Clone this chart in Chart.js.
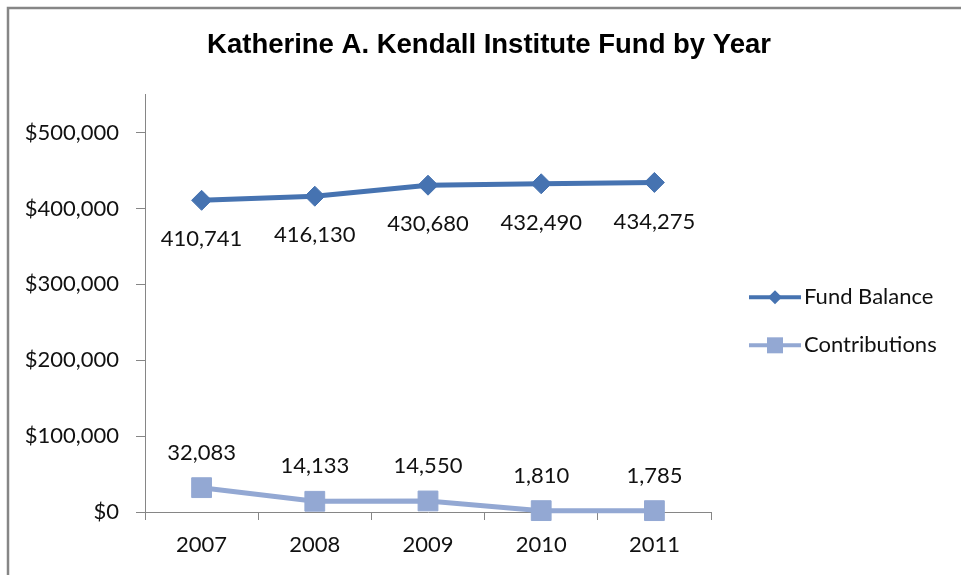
<!DOCTYPE html>
<html>
<head>
<meta charset="utf-8">
<title>Katherine A. Kendall Institute Fund by Year</title>
<script src="https://cdn.jsdelivr.net/npm/chart.js@4.4.0/dist/chart.umd.min.js"></script>
<style>
    html, body { margin: 0; padding: 0; background: #fff; }
    canvas { display: block; }
</style>
</head>
<body>
<canvas id="fundChart" width="961" height="575"></canvas>
<script>
// --- values
var years = ['2007', '2008', '2009', '2010', '2011'];
var fundBalance = [410741, 416130, 430680, 432490, 434275];
var contributions = [32083, 14133, 14550, 1810, 1785];
var yTicks = [0, 100000, 200000, 300000, 400000, 500000];
var yMax = 550000;

var fundColor = '#4673B1';
var contribColor = '#93A8D3';
var axisColor = '#868686';
var textColor = '#111';
var labelFont = { family: 'Lato', size: 22 };

function money(v) {
    return '$' + v.toLocaleString('en-US');
}

// grey frame round the whole chart (left and top edges only show)
var framePlugin = {
    id: 'frame',
    beforeDraw: function (chart) {
        var ctx = chart.ctx;
        ctx.save();
        ctx.fillStyle = '#fff';
        ctx.fillRect(0, 0, chart.width, chart.height);
        ctx.strokeStyle = axisColor;
        ctx.lineWidth = 2.5;
        ctx.beginPath();
        ctx.moveTo(8, chart.height);
        ctx.lineTo(8, 8);
        ctx.lineTo(chart.width, 8);
        ctx.stroke();
        ctx.restore();
    }
};

// value labels: below the fund points, above the contribution points
var valueLabels = {
    id: 'valueLabels',
    afterDatasetsDraw: function (chart) {
        var ctx = chart.ctx;
        ctx.save();
        ctx.font = labelFont.size + 'px ' + labelFont.family;
        ctx.fillStyle = textColor;
        ctx.textAlign = 'center';
        ctx.textBaseline = 'middle';
        chart.data.datasets.forEach(function (ds, i) {
            var meta = chart.getDatasetMeta(i);
            meta.data.forEach(function (pt, j) {
                ctx.fillText(ds.data[j].toLocaleString('en-US'), pt.x, pt.y + ds.labelOffset);
            });
        });
        ctx.restore();
    }
};

// Excel style legend: short line with the marker on it
function drawMarker(ctx, style, x, y, r) {
    ctx.beginPath();
    if (style === 'rectRot') {
        ctx.moveTo(x, y - r);
        ctx.lineTo(x + r, y);
        ctx.lineTo(x, y + r);
        ctx.lineTo(x - r, y);
    } else {
        ctx.rect(x - r, y - r, r * 2, r * 2);
    }
    ctx.closePath();
    ctx.fill();
}

var lineLegend = {
    id: 'lineLegend',
    afterDraw: function (chart) {
        var ctx = chart.ctx;
        var area = chart.chartArea;
        var x0 = area.right + 38;
        var midY = (area.top + area.bottom) / 2 + 18;
        ctx.save();
        ctx.font = labelFont.size + 'px ' + labelFont.family;
        ctx.textBaseline = 'middle';
        ctx.textAlign = 'left';
        chart.data.datasets.forEach(function (ds, i) {
            var y = midY + (i - 0.5) * 48;
            ctx.strokeStyle = ds.borderColor;
            ctx.fillStyle = ds.borderColor;
            ctx.lineWidth = 4;
            ctx.beginPath();
            ctx.moveTo(x0, y);
            ctx.lineTo(x0 + 52, y);
            ctx.stroke();
            drawMarker(ctx, ds.pointStyle, x0 + 26, y, ds.legendMarker);
            ctx.fillStyle = textColor;
            ctx.fillText(ds.label, x0 + 55, y);
        });
        ctx.restore();
    }
};

new Chart(document.getElementById('fundChart'), {
    type: 'line',
    data: {
        labels: years,
        datasets: [{
            label: 'Fund Balance',
            data: fundBalance,
            borderColor: fundColor,
            backgroundColor: fundColor,
            borderWidth: 5,
            pointStyle: 'rectRot',
            pointRadius: 10,
            pointBorderWidth: 1,
            tension: 0,
            clip: false,
            labelOffset: 39,
            legendMarker: 7
        },
        {
            label: 'Contributions',
            data: contributions,
            borderColor: contribColor,
            backgroundColor: contribColor,
            borderWidth: 5,
            pointStyle: 'rect',
            pointRadius: 14,
            pointBorderWidth: 1,
            tension: 0,
            clip: false,
            labelOffset: -35,
            legendMarker: 8
        }]
    },
    options: {
        responsive: false,
        animation: false,
        layout: {
            padding: { left: 17, right: 0, top: 0, bottom: 0 }
        },
        plugins: {
            legend: { display: false },
            tooltip: { enabled: false },
            title: {
                display: true,
                text: 'Katherine A. Kendall Institute Fund by Year',
                color: '#000',
                font: {
                    family: "'Liberation Sans', Arial, sans-serif",
                    size: 27.5,
                    weight: 'bold',
                    lineHeight: 1.15
                },
                padding: { top: 30, bottom: 33 }
            }
        },
        scales: {
            x: {
                offset: true,
                grid: {
                    offset: true,
                    drawOnChartArea: false,
                    tickLength: 8,
                    color: axisColor
                },
                border: { color: axisColor, width: 1 },
                ticks: { font: labelFont, color: textColor, padding: 12, maxRotation: 0 },
                afterFit: function (scale) {
                    scale.height = 63;
                }
            },
            y: {
                min: 0,
                max: yMax,
                grid: {
                    drawOnChartArea: false,
                    tickLength: 9,
                    color: axisColor
                },
                border: { color: axisColor, width: 1 },
                ticks: { font: labelFont, color: textColor, padding: 17, callback: money },
                afterBuildTicks: function (scale) {
                    scale.ticks = yTicks.map(function (v) { return { value: v }; });
                },
                afterFit: function (scale) {
                    scale.width = 128;
                }
            },
            // empty axis on the right, keeps room for the legend
            spacer: {
                type: 'linear',
                axis: 'y',
                position: 'right',
                grid: { display: false },
                border: { display: false },
                ticks: { display: false },
                afterFit: function (scale) {
                    scale.width = 250;
                }
            }
        }
    },
    plugins: [framePlugin, valueLabels, lineLegend]
});
</script>
</body>
</html>
